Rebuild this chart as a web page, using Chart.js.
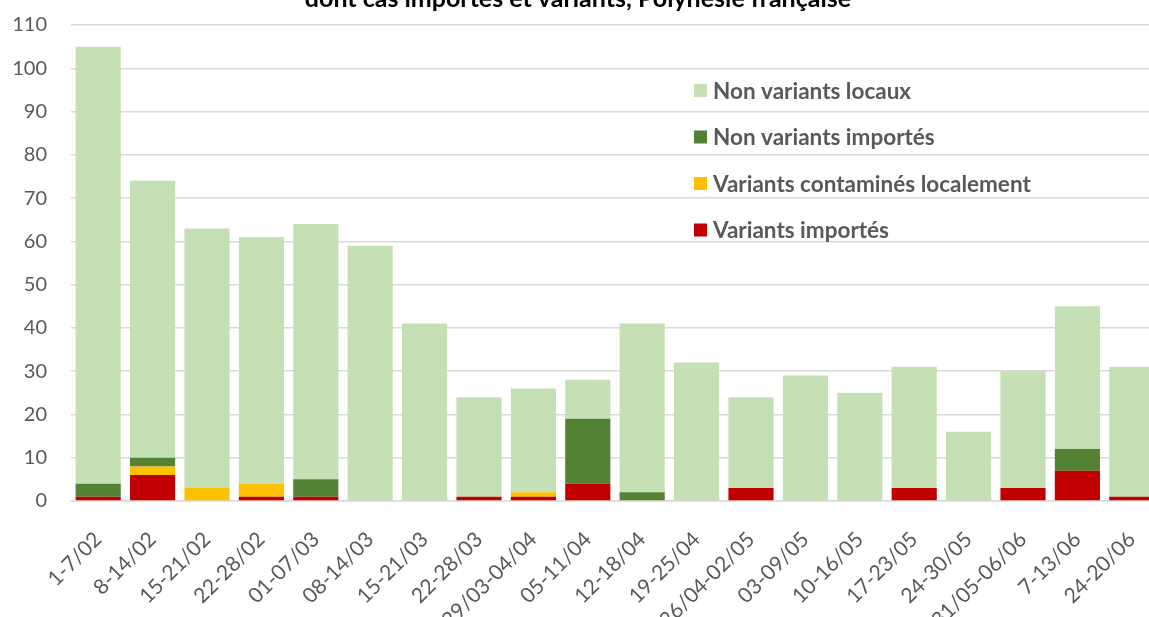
<!DOCTYPE html>
<html>
<head>
<meta charset="utf-8">
<script src="https://cdn.jsdelivr.net/npm/chart.js@4/dist/chart.umd.min.js"></script>
<style>
  html, body { margin: 0; padding: 0; overflow: hidden; background: #fff; }
  #wrap { width: 1160px; height: 617px; position: relative; }
</style>
</head>
<body>
<div id="wrap"><canvas id="casChart"></canvas></div>
<script>
const weeks = ["1-7/02", "8-14/02", "15-21/02", "22-28/02", "01-07/03", "08-14/03", "15-21/03", "22-28/03",
    "29/03-04/04", "05-11/04", "12-18/04", "19-25/04", "26/04-02/05", "03-09/05", "10-16/05", "17-23/05",
    "24-30/05", "31/05-06/06", "7-13/06", "24-20/06"];
const variantsImportes = [1, 6, 0, 1, 1, 0, 0, 1, 1, 4, 0, 0, 3, 0, 0, 3, 0, 3, 7, 1];
const variantsLocaux = [0, 2, 3, 3, 0, 0, 0, 0, 1, 0, 0, 0, 0, 0, 0, 0, 0, 0, 0, 0];
const nonVariantsImportes = [3, 2, 0, 0, 4, 0, 0, 0, 0, 15, 2, 0, 0, 0, 0, 0, 0, 0, 5, 0];
const nonVariantsLocaux = [101, 64, 60, 57, 59, 59, 41, 23, 24, 9, 39, 32, 21, 29, 25, 28, 16, 27, 33, 30];
const yTicks = [0, 10, 20, 30, 40, 50, 60, 70, 80, 90, 100, 110];
const titleText = "dont cas importés et variants, Polynésie française";

const fontFamily = "Lato, 'Open Sans', sans-serif";
const textColor = "#595959";

// legend drawn inside the plot, top to bottom in reverse stacking order
const insideLegend = {
    id: "insideLegend",
    afterDraw(chart) {
        const ctx = chart.ctx;
        const items = chart.data.datasets.slice().reverse();
        ctx.save();
        ctx.font = "bold 22.5px " + fontFamily;
        ctx.textBaseline = "middle";
        items.forEach((ds, i) => {
            const y = 90.5 + i * 46.5;
            ctx.fillStyle = ds.backgroundColor;
            ctx.fillRect(694, y - 6.5, 13, 13);
            ctx.fillStyle = textColor;
            ctx.fillText(ds.label, 713, y + 1);
        });
        ctx.restore();
    }
};

// title line, partly cut off by the top edge as in the original
const topTitle = {
    id: "topTitle",
    afterDraw(chart) {
        const ctx = chart.ctx;
        ctx.save();
        ctx.font = "bold 25px " + fontFamily;
        ctx.fillStyle = "#000000";
        ctx.textAlign = "center";
        ctx.textBaseline = "alphabetic";
        ctx.fillText(titleText, 578, 7);
        ctx.restore();
    }
};

new Chart(document.getElementById("casChart"), {
    type: "bar",
    data: {
        labels: weeks,
        datasets: [
            { label: "Variants importés", data: variantsImportes, backgroundColor: "#C00000" },
            { label: "Variants contaminés localement", data: variantsLocaux, backgroundColor: "#FFC000" },
            { label: "Non variants importés", data: nonVariantsImportes, backgroundColor: "#548235" },
            { label: "Non variants locaux", data: nonVariantsLocaux, backgroundColor: "#C5E0B4" }
        ]
    },
    options: {
        responsive: true,
        maintainAspectRatio: false,
        animation: false,
        layout: { padding: { top: 25, right: 1, left: 0, bottom: 0 } },
        datasets: { bar: { barPercentage: 1, categoryPercentage: 0.83 } },
        plugins: {
            legend: { display: false },
            title: { display: false },
            tooltip: { enabled: false }
        },
        scales: {
            x: {
                stacked: true,
                grid: { display: false, drawTicks: false },
                border: { display: true, color: "#D9D9D9", width: 1.5 },
                ticks: {
                    color: textColor,
                    font: { family: fontFamily, size: 21 },
                    minRotation: 45,
                    maxRotation: 45,
                    autoSkip: false,
                    padding: 26
                },
                afterFit(scale) {
                    scale.height = 116;
                    scale.paddingLeft = 0;
                    scale.paddingRight = 0;
                }
            },
            y: {
                stacked: true,
                min: 0,
                max: 110,
                afterBuildTicks(scale) { scale.ticks = yTicks.map(v => ({ value: v })); },
                grid: { color: "#D9D9D9", lineWidth: 1.5, drawTicks: false },
                border: { display: false },
                ticks: {
                    color: textColor,
                    font: { family: fontFamily, size: 20 },
                    padding: 24
                },
                afterFit(scale) {
                    scale.width = 71;
                    scale.paddingTop = 12;
                    scale.paddingBottom = 12;
                }
            }
        }
    },
    plugins: [insideLegend, topTitle]
});
</script>
</body>
</html>
